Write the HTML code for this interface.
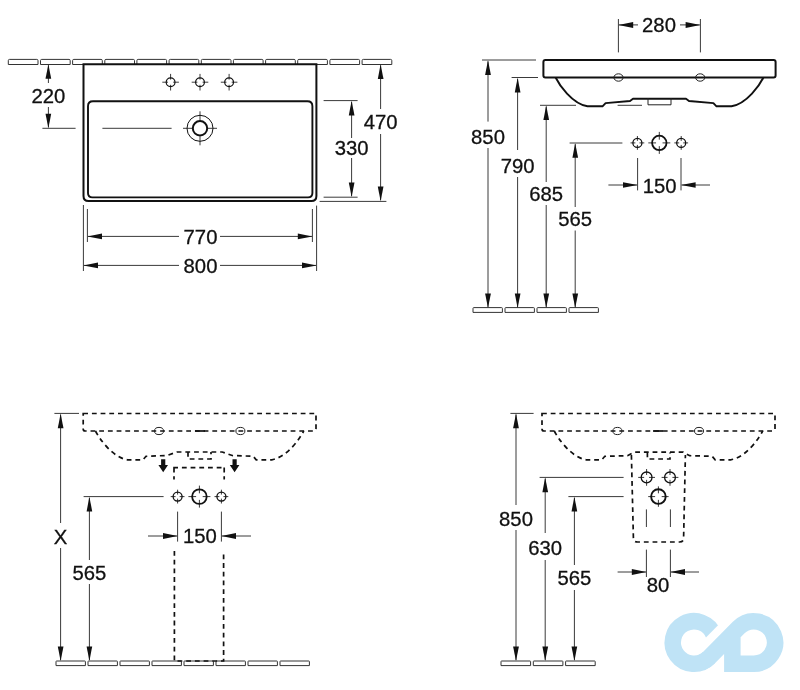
<!DOCTYPE html>
<html><head><meta charset="utf-8"><title>Washbasin dimensions</title>
<style>
html,body{margin:0;padding:0;background:#fff;}
body{width:800px;height:690px;overflow:hidden;}
svg{display:block;}
svg text{font-family:"Liberation Sans",Arial,sans-serif;fill:#111;stroke:#111;stroke-width:0.3px;}
</style></head><body>
<svg width="800" height="690" viewBox="0 0 800 690">
<rect width="800" height="690" fill="#fff"/>
<path d="M8.3,64.5 V60.6 Q8.3,59.4 9.5,59.4 H36.8 Q38.0,59.4 38.0,60.6 V64.5 Z" stroke="#333" stroke-width="1" fill="#fff"/>
<path d="M40.5,64.5 V60.6 Q40.5,59.4 41.7,59.4 H69.0 Q70.2,59.4 70.2,60.6 V64.5 Z" stroke="#333" stroke-width="1" fill="#fff"/>
<path d="M72.6,64.5 V60.6 Q72.6,59.4 73.8,59.4 H101.1 Q102.3,59.4 102.3,60.6 V64.5 Z" stroke="#333" stroke-width="1" fill="#fff"/>
<path d="M104.8,64.5 V60.6 Q104.8,59.4 106.0,59.4 H133.3 Q134.5,59.4 134.5,60.6 V64.5 Z" stroke="#333" stroke-width="1" fill="#fff"/>
<path d="M136.9,64.5 V60.6 Q136.9,59.4 138.1,59.4 H165.4 Q166.6,59.4 166.6,60.6 V64.5 Z" stroke="#333" stroke-width="1" fill="#fff"/>
<path d="M169.1,64.5 V60.6 Q169.1,59.4 170.3,59.4 H197.6 Q198.8,59.4 198.8,60.6 V64.5 Z" stroke="#333" stroke-width="1" fill="#fff"/>
<path d="M201.3,64.5 V60.6 Q201.3,59.4 202.5,59.4 H229.8 Q231.0,59.4 231.0,60.6 V64.5 Z" stroke="#333" stroke-width="1" fill="#fff"/>
<path d="M233.4,64.5 V60.6 Q233.4,59.4 234.6,59.4 H261.9 Q263.1,59.4 263.1,60.6 V64.5 Z" stroke="#333" stroke-width="1" fill="#fff"/>
<path d="M265.6,64.5 V60.6 Q265.6,59.4 266.8,59.4 H294.1 Q295.3,59.4 295.3,60.6 V64.5 Z" stroke="#333" stroke-width="1" fill="#fff"/>
<path d="M297.7,64.5 V60.6 Q297.7,59.4 298.9,59.4 H326.2 Q327.4,59.4 327.4,60.6 V64.5 Z" stroke="#333" stroke-width="1" fill="#fff"/>
<path d="M329.9,64.5 V60.6 Q329.9,59.4 331.1,59.4 H358.4 Q359.6,59.4 359.6,60.6 V64.5 Z" stroke="#333" stroke-width="1" fill="#fff"/>
<path d="M362.1,64.5 V60.6 Q362.1,59.4 363.3,59.4 H390.6 Q391.8,59.4 391.8,60.6 V64.5 Z" stroke="#333" stroke-width="1" fill="#fff"/>
<path d="M83.5,64.2 H316.4 V196 Q316.4,201 311.4,201 H88.5 Q83.5,201 83.5,196 Z" stroke="#111" stroke-width="2" fill="#fff"/>
<path d="M93,101.2 H307.4 Q312.4,101.2 312.4,106.2 V193 Q312.4,197.4 308,197.4 H92.4 Q88,197.4 88,193 V106.2 Q88,101.2 93,101.2 Z" stroke="#111" stroke-width="1.9" fill="none"/>
<line x1="173.2" y1="82.2" x2="178.9" y2="82.2" stroke="#3a3a3a" stroke-width="1" fill="none"/>
<line x1="168.0" y1="82.2" x2="162.29999999999998" y2="82.2" stroke="#3a3a3a" stroke-width="1" fill="none"/>
<line x1="170.6" y1="84.8" x2="170.6" y2="90.5" stroke="#3a3a3a" stroke-width="1" fill="none"/>
<line x1="170.6" y1="79.60000000000001" x2="170.6" y2="73.9" stroke="#3a3a3a" stroke-width="1" fill="none"/>
<circle cx="170.6" cy="82.2" r="4.4" stroke="#111" stroke-width="1.2" fill="none"/>
<line x1="202.6" y1="82.2" x2="208.3" y2="82.2" stroke="#3a3a3a" stroke-width="1" fill="none"/>
<line x1="197.4" y1="82.2" x2="191.7" y2="82.2" stroke="#3a3a3a" stroke-width="1" fill="none"/>
<line x1="200.0" y1="84.8" x2="200.0" y2="90.5" stroke="#3a3a3a" stroke-width="1" fill="none"/>
<line x1="200.0" y1="79.60000000000001" x2="200.0" y2="73.9" stroke="#3a3a3a" stroke-width="1" fill="none"/>
<circle cx="200" cy="82.2" r="4.4" stroke="#111" stroke-width="1.2" fill="none"/>
<line x1="231.7" y1="82.2" x2="237.4" y2="82.2" stroke="#3a3a3a" stroke-width="1" fill="none"/>
<line x1="226.5" y1="82.2" x2="220.79999999999998" y2="82.2" stroke="#3a3a3a" stroke-width="1" fill="none"/>
<line x1="229.1" y1="84.8" x2="229.1" y2="90.5" stroke="#3a3a3a" stroke-width="1" fill="none"/>
<line x1="229.1" y1="79.60000000000001" x2="229.1" y2="73.9" stroke="#3a3a3a" stroke-width="1" fill="none"/>
<circle cx="229.1" cy="82.2" r="4.4" stroke="#111" stroke-width="1.2" fill="none"/>
<line x1="208" y1="128.3" x2="217" y2="128.3" stroke="#3a3a3a" stroke-width="1" fill="none"/>
<line x1="192" y1="128.3" x2="183" y2="128.3" stroke="#3a3a3a" stroke-width="1" fill="none"/>
<line x1="200" y1="136.3" x2="200" y2="145.3" stroke="#3a3a3a" stroke-width="1" fill="none"/>
<line x1="200" y1="120.30000000000001" x2="200" y2="111.30000000000001" stroke="#3a3a3a" stroke-width="1" fill="none"/>
<circle cx="200" cy="128.3" r="13" stroke="#111" stroke-width="1" fill="none"/>
<circle cx="200" cy="128.3" r="7.2" stroke="#111" stroke-width="2" fill="#fff"/>
<line x1="102.4" y1="128.3" x2="171.6" y2="128.3" stroke="#3a3a3a" stroke-width="1" fill="none"/>
<line x1="42.4" y1="128.3" x2="75.6" y2="128.3" stroke="#3a3a3a" stroke-width="1" fill="none"/>
<line x1="48.4" y1="65.2" x2="48.4" y2="83" stroke="#3a3a3a" stroke-width="1" fill="none"/>
<line x1="48.4" y1="107" x2="48.4" y2="127.30000000000001" stroke="#3a3a3a" stroke-width="1" fill="none"/>
<polygon points="48.4,64.2 45.5,78.8 51.2,78.8" fill="#111"/>
<polygon points="48.4,128.3 45.5,113.7 51.2,113.7" fill="#111"/>
<line x1="323.6" y1="100.6" x2="357.6" y2="100.6" stroke="#3a3a3a" stroke-width="1" fill="none"/>
<line x1="323.6" y1="197.2" x2="357.6" y2="197.2" stroke="#3a3a3a" stroke-width="1" fill="none"/>
<line x1="351.6" y1="101.8" x2="351.6" y2="138" stroke="#3a3a3a" stroke-width="1" fill="none"/>
<line x1="351.6" y1="158" x2="351.6" y2="196" stroke="#3a3a3a" stroke-width="1" fill="none"/>
<polygon points="351.6,100.8 348.8,115.4 354.5,115.4" fill="#111"/>
<polygon points="351.6,197.0 348.8,182.4 354.5,182.4" fill="#111"/>
<line x1="319.6" y1="201.4" x2="386.4" y2="201.4" stroke="#3a3a3a" stroke-width="1" fill="none"/>
<line x1="380.6" y1="65.3" x2="380.6" y2="109" stroke="#3a3a3a" stroke-width="1" fill="none"/>
<line x1="380.6" y1="134" x2="380.6" y2="200.2" stroke="#3a3a3a" stroke-width="1" fill="none"/>
<polygon points="380.6,64.3 377.8,78.9 383.5,78.9" fill="#111"/>
<polygon points="380.6,201.2 377.8,186.6 383.5,186.6" fill="#111"/>
<line x1="87.4" y1="209" x2="87.4" y2="242" stroke="#3a3a3a" stroke-width="1" fill="none"/>
<line x1="312.4" y1="209" x2="312.4" y2="242" stroke="#3a3a3a" stroke-width="1" fill="none"/>
<line x1="88" y1="236.4" x2="179" y2="236.4" stroke="#3a3a3a" stroke-width="1" fill="none"/>
<line x1="220" y1="236.4" x2="312" y2="236.4" stroke="#3a3a3a" stroke-width="1" fill="none"/>
<polygon points="87.4,236.4 102.0,233.6 102.0,239.2" fill="#111"/>
<polygon points="312.4,236.4 297.8,233.6 297.8,239.2" fill="#111"/>
<line x1="83.4" y1="205" x2="83.4" y2="271" stroke="#3a3a3a" stroke-width="1" fill="none"/>
<line x1="316.6" y1="205.6" x2="316.6" y2="271" stroke="#3a3a3a" stroke-width="1" fill="none"/>
<line x1="84" y1="265.4" x2="179" y2="265.4" stroke="#3a3a3a" stroke-width="1" fill="none"/>
<line x1="220" y1="265.4" x2="316" y2="265.4" stroke="#3a3a3a" stroke-width="1" fill="none"/>
<polygon points="83.4,265.4 98.0,262.5 98.0,268.2" fill="#111"/>
<polygon points="316.6,265.4 302.0,262.5 302.0,268.2" fill="#111"/>
<path d="M555.6,77.5 C559,84.5 572,103.8 587.5,106.3 H602.5 L605.6,103.1 L630,101 L633,98.75 H686 L689,101 L713.4,103.1 L716.5,106.3 H731.5 C747,103.8 760,84.5 763.4,77.5" stroke="#111" stroke-width="1.9" fill="none" stroke-linejoin="round"/>
<path d="M545.4,60 H773.6 Q775.6,60 775.6,62 V75.5 Q775.6,77.5 773.6,77.5 H545.4 Q543.4,77.5 543.4,75.5 V62 Q543.4,60 545.4,60 Z" stroke="#111" stroke-width="2" fill="#fff"/>
<path d="M648,98 V104.8 H671 V98" stroke="#222" stroke-width="1" fill="none"/>
<ellipse cx="618.5" cy="77.5" rx="4.6" ry="3.7" stroke="#222" stroke-width="1" fill="none"/>
<ellipse cx="700.2" cy="77.5" rx="4.6" ry="3.7" stroke="#222" stroke-width="1" fill="none"/>
<line x1="618.4" y1="19" x2="618.4" y2="52.4" stroke="#3a3a3a" stroke-width="1" fill="none"/>
<line x1="700.4" y1="19" x2="700.4" y2="52.4" stroke="#3a3a3a" stroke-width="1" fill="none"/>
<line x1="619" y1="24.9" x2="638" y2="24.9" stroke="#3a3a3a" stroke-width="1" fill="none"/>
<line x1="680" y1="24.9" x2="699.8" y2="24.9" stroke="#3a3a3a" stroke-width="1" fill="none"/>
<polygon points="618.4,24.9 633.2,21.9 633.2,27.9" fill="#111"/>
<polygon points="700.4,24.9 685.6,21.9 685.6,27.9" fill="#111"/>
<line x1="639.425" y1="142.9" x2="644.3" y2="142.9" stroke="#3a3a3a" stroke-width="1" fill="none"/>
<line x1="635.375" y1="142.9" x2="630.5" y2="142.9" stroke="#3a3a3a" stroke-width="1" fill="none"/>
<line x1="637.4" y1="144.925" x2="637.4" y2="149.8" stroke="#3a3a3a" stroke-width="1" fill="none"/>
<line x1="637.4" y1="140.875" x2="637.4" y2="136.0" stroke="#3a3a3a" stroke-width="1" fill="none"/>
<circle cx="637.4" cy="142.9" r="4.5" stroke="#111" stroke-width="1.3" fill="none"/>
<line x1="683.225" y1="142.9" x2="688.1" y2="142.9" stroke="#3a3a3a" stroke-width="1" fill="none"/>
<line x1="679.1750000000001" y1="142.9" x2="674.3000000000001" y2="142.9" stroke="#3a3a3a" stroke-width="1" fill="none"/>
<line x1="681.2" y1="144.925" x2="681.2" y2="149.8" stroke="#3a3a3a" stroke-width="1" fill="none"/>
<line x1="681.2" y1="140.875" x2="681.2" y2="136.0" stroke="#3a3a3a" stroke-width="1" fill="none"/>
<circle cx="681.2" cy="142.9" r="4.5" stroke="#111" stroke-width="1.3" fill="none"/>
<line x1="662.54" y1="142.9" x2="670.3" y2="142.9" stroke="#3a3a3a" stroke-width="1" fill="none"/>
<line x1="656.06" y1="142.9" x2="648.3" y2="142.9" stroke="#3a3a3a" stroke-width="1" fill="none"/>
<line x1="659.3" y1="146.14000000000001" x2="659.3" y2="153.9" stroke="#3a3a3a" stroke-width="1" fill="none"/>
<line x1="659.3" y1="139.66" x2="659.3" y2="131.9" stroke="#3a3a3a" stroke-width="1" fill="none"/>
<circle cx="659.3" cy="142.9" r="7.2" stroke="#111" stroke-width="1.8" fill="none"/>
<line x1="637.6" y1="158" x2="637.6" y2="190.4" stroke="#3a3a3a" stroke-width="1" fill="none"/>
<line x1="681" y1="158" x2="681" y2="190.4" stroke="#3a3a3a" stroke-width="1" fill="none"/>
<line x1="608.4" y1="185" x2="637" y2="185" stroke="#3a3a3a" stroke-width="1" fill="none"/>
<line x1="681.6" y1="185" x2="710" y2="185" stroke="#3a3a3a" stroke-width="1" fill="none"/>
<polygon points="637.6,185.0 623.0,182.2 623.0,187.8" fill="#111"/>
<polygon points="681.0,185.0 695.6,182.2 695.6,187.8" fill="#111"/>
<path d="M473.0,312.40000000000003 V308.40000000000003 Q473.0,307.6 473.8,307.6 H501.6 Q502.4,307.6 502.4,308.40000000000003 V312.40000000000003 Z" stroke="#333" stroke-width="1" fill="#fff"/>
<path d="M505.0,312.40000000000003 V308.40000000000003 Q505.0,307.6 505.8,307.6 H533.6 Q534.4,307.6 534.4,308.40000000000003 V312.40000000000003 Z" stroke="#333" stroke-width="1" fill="#fff"/>
<path d="M537.0,312.40000000000003 V308.40000000000003 Q537.0,307.6 537.8,307.6 H565.6 Q566.4,307.6 566.4,308.40000000000003 V312.40000000000003 Z" stroke="#333" stroke-width="1" fill="#fff"/>
<path d="M569.0,312.40000000000003 V308.40000000000003 Q569.0,307.6 569.8,307.6 H597.6 Q598.4,307.6 598.4,308.40000000000003 V312.40000000000003 Z" stroke="#333" stroke-width="1" fill="#fff"/>
<line x1="482" y1="60" x2="536" y2="60" stroke="#3a3a3a" stroke-width="1" fill="none"/>
<line x1="488" y1="61.3" x2="488" y2="121.6" stroke="#3a3a3a" stroke-width="1" fill="none"/>
<line x1="488" y1="148" x2="488" y2="307" stroke="#3a3a3a" stroke-width="1" fill="none"/>
<polygon points="488.0,60.3 485.1,74.9 490.9,74.9" fill="#111"/>
<polygon points="488.0,308.0 485.1,293.4 490.9,293.4" fill="#111"/>
<line x1="511.6" y1="77.5" x2="538" y2="77.5" stroke="#3a3a3a" stroke-width="1" fill="none"/>
<line x1="517.6" y1="78.8" x2="517.6" y2="150" stroke="#3a3a3a" stroke-width="1" fill="none"/>
<line x1="517.6" y1="177" x2="517.6" y2="307" stroke="#3a3a3a" stroke-width="1" fill="none"/>
<polygon points="517.6,77.8 514.8,92.4 520.5,92.4" fill="#111"/>
<polygon points="517.6,308.0 514.8,293.4 520.5,293.4" fill="#111"/>
<line x1="540" y1="105.3" x2="576" y2="105.3" stroke="#3a3a3a" stroke-width="1" fill="none"/>
<line x1="617.6" y1="105.3" x2="642" y2="105.3" stroke="#3a3a3a" stroke-width="1" fill="none"/>
<line x1="546.2" y1="106.5" x2="546.2" y2="182" stroke="#3a3a3a" stroke-width="1" fill="none"/>
<line x1="546.2" y1="205" x2="546.2" y2="307" stroke="#3a3a3a" stroke-width="1" fill="none"/>
<polygon points="546.2,105.5 543.4,120.1 549.1,120.1" fill="#111"/>
<polygon points="546.2,308.0 543.4,293.4 549.1,293.4" fill="#111"/>
<line x1="569.6" y1="143" x2="622.4" y2="143" stroke="#3a3a3a" stroke-width="1" fill="none"/>
<line x1="575.2" y1="144.2" x2="575.2" y2="207" stroke="#3a3a3a" stroke-width="1" fill="none"/>
<line x1="575.2" y1="230.5" x2="575.2" y2="307" stroke="#3a3a3a" stroke-width="1" fill="none"/>
<polygon points="575.2,143.2 572.4,157.8 578.1,157.8" fill="#111"/>
<polygon points="575.2,308.0 572.4,293.4 578.1,293.4" fill="#111"/>
<path d="M56.0,665.6 V661.6 Q56.0,661 56.6,661 H84.8 Q85.4,661 85.4,661.6 V665.6 Z" stroke="#333" stroke-width="1" fill="#fff"/>
<path d="M88.0,665.6 V661.6 Q88.0,661 88.6,661 H116.8 Q117.4,661 117.4,661.6 V665.6 Z" stroke="#333" stroke-width="1" fill="#fff"/>
<path d="M120.0,665.6 V661.6 Q120.0,661 120.6,661 H148.8 Q149.4,661 149.4,661.6 V665.6 Z" stroke="#333" stroke-width="1" fill="#fff"/>
<path d="M152.0,665.6 V661.6 Q152.0,661 152.6,661 H180.8 Q181.4,661 181.4,661.6 V665.6 Z" stroke="#333" stroke-width="1" fill="#fff"/>
<path d="M184.0,665.6 V661.6 Q184.0,661 184.6,661 H212.8 Q213.4,661 213.4,661.6 V665.6 Z" stroke="#333" stroke-width="1" fill="#fff"/>
<path d="M216.0,665.6 V661.6 Q216.0,661 216.6,661 H244.8 Q245.4,661 245.4,661.6 V665.6 Z" stroke="#333" stroke-width="1" fill="#fff"/>
<path d="M248.0,665.6 V661.6 Q248.0,661 248.6,661 H276.8 Q277.4,661 277.4,661.6 V665.6 Z" stroke="#333" stroke-width="1" fill="#fff"/>
<path d="M280.0,665.6 V661.6 Q280.0,661 280.6,661 H308.8 Q309.4,661 309.4,661.6 V665.6 Z" stroke="#333" stroke-width="1" fill="#fff"/>
<path d="M83.2,413.5 H316 V429 Q316,431 314,431 H85.2 Q83.2,431 83.2,429 Z" stroke="#111" stroke-width="1.7" fill="none" stroke-dasharray="4.8 3.9"/>
<path d="M95.5,431 C99,438 112,457.3 127.5,459.8 H143 L146,456.3 L167,455.5 L177,452 H222.2 L232.2,455.5 L253.2,456.3 L256.2,459.8 H271.7 C287.2,457.3 300.2,438 303.7,431" stroke="#111" stroke-width="1.7" fill="none" stroke-dasharray="4.8 3.9"/>
<path d="M188,452 V459 H211 V452" stroke="#111" stroke-width="1.7" fill="none" stroke-dasharray="4.8 3.9"/>
<path d="M174,467.6 V479.5 M173.2,467.6 H224.4 M224.2,467.6 V479.5" stroke="#111" stroke-width="1.7" fill="none" stroke-dasharray="4.8 3.9"/>
<path d="M174.4,551 V661 H223.6 V551" stroke="#111" stroke-width="1.7" fill="none" stroke-dasharray="4.8 3.9"/>
<ellipse cx="159" cy="431" rx="4.5" ry="3.6" stroke="#222" stroke-width="1" fill="none"/>
<ellipse cx="240.4" cy="431" rx="4.5" ry="3.6" stroke="#222" stroke-width="1" fill="none"/>
<line x1="195" y1="431" x2="205" y2="431" stroke="#111" stroke-width="1.7"/>
<path d="M161.1,459.2 H165.29999999999998 V465 H168.0 L163.2,472.2 L158.39999999999998,465 H161.1 Z" fill="#111"/>
<path d="M232.5,459.2 H236.7 V465 H239.4 L234.6,472.2 L229.79999999999998,465 H232.5 Z" fill="#111"/>
<line x1="179.625" y1="496.6" x2="184.5" y2="496.6" stroke="#3a3a3a" stroke-width="1" fill="none"/>
<line x1="175.575" y1="496.6" x2="170.7" y2="496.6" stroke="#3a3a3a" stroke-width="1" fill="none"/>
<line x1="177.6" y1="498.625" x2="177.6" y2="503.5" stroke="#3a3a3a" stroke-width="1" fill="none"/>
<line x1="177.6" y1="494.57500000000005" x2="177.6" y2="489.70000000000005" stroke="#3a3a3a" stroke-width="1" fill="none"/>
<circle cx="177.6" cy="496.6" r="4.5" stroke="#111" stroke-width="1.3" fill="none"/>
<line x1="223.425" y1="496.6" x2="228.3" y2="496.6" stroke="#3a3a3a" stroke-width="1" fill="none"/>
<line x1="219.375" y1="496.6" x2="214.5" y2="496.6" stroke="#3a3a3a" stroke-width="1" fill="none"/>
<line x1="221.4" y1="498.625" x2="221.4" y2="503.5" stroke="#3a3a3a" stroke-width="1" fill="none"/>
<line x1="221.4" y1="494.57500000000005" x2="221.4" y2="489.70000000000005" stroke="#3a3a3a" stroke-width="1" fill="none"/>
<circle cx="221.4" cy="496.6" r="4.5" stroke="#111" stroke-width="1.3" fill="none"/>
<line x1="202.685" y1="496.6" x2="210.4" y2="496.6" stroke="#3a3a3a" stroke-width="1" fill="none"/>
<line x1="196.115" y1="496.6" x2="188.4" y2="496.6" stroke="#3a3a3a" stroke-width="1" fill="none"/>
<line x1="199.4" y1="499.88500000000005" x2="199.4" y2="507.6" stroke="#3a3a3a" stroke-width="1" fill="none"/>
<line x1="199.4" y1="493.315" x2="199.4" y2="485.6" stroke="#3a3a3a" stroke-width="1" fill="none"/>
<circle cx="199.4" cy="496.6" r="7.3" stroke="#111" stroke-width="1.8" fill="none"/>
<line x1="177.6" y1="511.6" x2="177.6" y2="541.6" stroke="#3a3a3a" stroke-width="1" fill="none"/>
<line x1="221.4" y1="511.6" x2="221.4" y2="541.6" stroke="#3a3a3a" stroke-width="1" fill="none"/>
<line x1="148" y1="536" x2="177" y2="536" stroke="#3a3a3a" stroke-width="1" fill="none"/>
<line x1="222" y1="536" x2="251" y2="536" stroke="#3a3a3a" stroke-width="1" fill="none"/>
<polygon points="177.6,536.0 163.0,533.1 163.0,538.9" fill="#111"/>
<polygon points="221.4,536.0 236.0,533.1 236.0,538.9" fill="#111"/>
<line x1="54.4" y1="413.4" x2="79" y2="413.4" stroke="#3a3a3a" stroke-width="1" fill="none"/>
<line x1="60.6" y1="414.6" x2="60.6" y2="523" stroke="#3a3a3a" stroke-width="1" fill="none"/>
<line x1="60.6" y1="548" x2="60.6" y2="660" stroke="#3a3a3a" stroke-width="1" fill="none"/>
<polygon points="60.6,413.6 57.8,428.2 63.5,428.2" fill="#111"/>
<polygon points="60.6,661.0 57.8,646.4 63.5,646.4" fill="#111"/>
<line x1="83.6" y1="496.6" x2="163.6" y2="496.6" stroke="#3a3a3a" stroke-width="1" fill="none"/>
<line x1="89.4" y1="497.8" x2="89.4" y2="560" stroke="#3a3a3a" stroke-width="1" fill="none"/>
<line x1="89.4" y1="584" x2="89.4" y2="660" stroke="#3a3a3a" stroke-width="1" fill="none"/>
<polygon points="89.4,496.8 86.6,511.4 92.2,511.4" fill="#111"/>
<polygon points="89.4,661.0 86.6,646.4 92.2,646.4" fill="#111"/>
<path d="M501.0,665.6 V661.6 Q501.0,661 501.6,661 H530.0 Q530.6,661 530.6,661.6 V665.6 Z" stroke="#333" stroke-width="1" fill="#fff"/>
<path d="M533.3,665.6 V661.6 Q533.3,661 533.9,661 H562.3 Q562.9,661 562.9,661.6 V665.6 Z" stroke="#333" stroke-width="1" fill="#fff"/>
<path d="M565.6,665.6 V661.6 Q565.6,661 566.2,661 H594.6 Q595.2,661 595.2,661.6 V665.6 Z" stroke="#333" stroke-width="1" fill="#fff"/>
<path d="M542,413.5 H775 V429 Q775,431 773,431 H544 Q542,431 542,429 Z" stroke="#111" stroke-width="1.7" fill="none" stroke-dasharray="4.8 3.9"/>
<path d="M554.3,431 C557.8,438 570.8,457.3 586.3,459.8 H601.8 L604.8,456.3 L627.5,455.7 L634,452.2 H683.2 L689.7,455.7 L712.2,456.3 L715.2,459.8 H730.7 C746.2,457.3 759.2,438 762.7,431" stroke="#111" stroke-width="1.7" fill="none" stroke-dasharray="4.8 3.9"/>
<path d="M647.4,452.4 V459 H670 V452.4" stroke="#111" stroke-width="1.7" fill="none" stroke-dasharray="4.8 3.9"/>
<path d="M631.4,455 L633.4,538 Q633.6,542 637.6,542 H679.6 Q683.6,542 683.6,538 L685.4,455" stroke="#111" stroke-width="1.7" fill="none" stroke-dasharray="4.8 3.9"/>
<ellipse cx="617.4" cy="431" rx="4.5" ry="3.6" stroke="#222" stroke-width="1" fill="none"/>
<ellipse cx="699" cy="431" rx="4.5" ry="3.6" stroke="#222" stroke-width="1" fill="none"/>
<line x1="653" y1="431" x2="663" y2="431" stroke="#111" stroke-width="1.7"/>
<line x1="649.03" y1="477.4" x2="655.0" y2="477.4" stroke="#3a3a3a" stroke-width="1" fill="none"/>
<line x1="644.1700000000001" y1="477.4" x2="638.2" y2="477.4" stroke="#3a3a3a" stroke-width="1" fill="none"/>
<line x1="646.6" y1="479.83" x2="646.6" y2="485.79999999999995" stroke="#3a3a3a" stroke-width="1" fill="none"/>
<line x1="646.6" y1="474.96999999999997" x2="646.6" y2="469.0" stroke="#3a3a3a" stroke-width="1" fill="none"/>
<circle cx="646.6" cy="477.4" r="5.4" stroke="#111" stroke-width="1.3" fill="none"/>
<line x1="672.43" y1="477.4" x2="678.4" y2="477.4" stroke="#3a3a3a" stroke-width="1" fill="none"/>
<line x1="667.57" y1="477.4" x2="661.6" y2="477.4" stroke="#3a3a3a" stroke-width="1" fill="none"/>
<line x1="670.0" y1="479.83" x2="670.0" y2="485.79999999999995" stroke="#3a3a3a" stroke-width="1" fill="none"/>
<line x1="670.0" y1="474.96999999999997" x2="670.0" y2="469.0" stroke="#3a3a3a" stroke-width="1" fill="none"/>
<circle cx="670" cy="477.4" r="5.4" stroke="#111" stroke-width="1.3" fill="none"/>
<line x1="661.685" y1="496.6" x2="668.6" y2="496.6" stroke="#3a3a3a" stroke-width="1" fill="none"/>
<line x1="655.115" y1="496.6" x2="648.1999999999999" y2="496.6" stroke="#3a3a3a" stroke-width="1" fill="none"/>
<line x1="658.4" y1="499.88500000000005" x2="658.4" y2="506.8" stroke="#3a3a3a" stroke-width="1" fill="none"/>
<line x1="658.4" y1="493.315" x2="658.4" y2="486.40000000000003" stroke="#3a3a3a" stroke-width="1" fill="none"/>
<circle cx="658.4" cy="496.6" r="7.3" stroke="#111" stroke-width="1.9" fill="none"/>
<line x1="646.4" y1="509.4" x2="646.4" y2="527" stroke="#3a3a3a" stroke-width="1" fill="none"/>
<line x1="670.4" y1="509.4" x2="670.4" y2="527" stroke="#3a3a3a" stroke-width="1" fill="none"/>
<line x1="646.4" y1="549.6" x2="646.4" y2="577" stroke="#3a3a3a" stroke-width="1" fill="none"/>
<line x1="670.4" y1="549.6" x2="670.4" y2="577" stroke="#3a3a3a" stroke-width="1" fill="none"/>
<line x1="617.6" y1="572" x2="646" y2="572" stroke="#3a3a3a" stroke-width="1" fill="none"/>
<line x1="671" y1="572" x2="699" y2="572" stroke="#3a3a3a" stroke-width="1" fill="none"/>
<polygon points="646.4,572.0 631.8,569.1 631.8,574.9" fill="#111"/>
<polygon points="670.4,572.0 685.0,569.1 685.0,574.9" fill="#111"/>
<line x1="510.4" y1="413.4" x2="533.6" y2="413.4" stroke="#3a3a3a" stroke-width="1" fill="none"/>
<line x1="516" y1="414.6" x2="516" y2="505" stroke="#3a3a3a" stroke-width="1" fill="none"/>
<line x1="516" y1="530" x2="516" y2="660" stroke="#3a3a3a" stroke-width="1" fill="none"/>
<polygon points="516.0,413.6 513.1,428.2 518.9,428.2" fill="#111"/>
<polygon points="516.0,661.0 513.1,646.4 518.9,646.4" fill="#111"/>
<line x1="539.6" y1="477.4" x2="623.6" y2="477.4" stroke="#3a3a3a" stroke-width="1" fill="none"/>
<line x1="545.2" y1="478.6" x2="545.2" y2="533" stroke="#3a3a3a" stroke-width="1" fill="none"/>
<line x1="545.2" y1="560" x2="545.2" y2="660" stroke="#3a3a3a" stroke-width="1" fill="none"/>
<polygon points="545.2,477.6 542.4,492.2 548.1,492.2" fill="#111"/>
<polygon points="545.2,661.0 542.4,646.4 548.1,646.4" fill="#111"/>
<line x1="568.4" y1="496.6" x2="623.6" y2="496.6" stroke="#3a3a3a" stroke-width="1" fill="none"/>
<line x1="574.4" y1="497.8" x2="574.4" y2="565" stroke="#3a3a3a" stroke-width="1" fill="none"/>
<line x1="574.4" y1="590" x2="574.4" y2="660" stroke="#3a3a3a" stroke-width="1" fill="none"/>
<polygon points="574.4,496.8 571.5,511.4 577.2,511.4" fill="#111"/>
<polygon points="574.4,661.0 571.5,646.4 577.2,646.4" fill="#111"/>
<path d="M713.97,635.23 A21.25,21.25 0 1 0 709.10,657.45" stroke="#bfe3f6" stroke-width="16.5" fill="none"/>
<line x1="700.40" y1="648.83" x2="728.54" y2="620.40" stroke="#fff" stroke-width="8"/>
<path d="M701.37,662.43 A21.25,21.25 0 0 0 709.10,657.45 L738.70,627.55 A21.25,21.25 0 1 1 753.8,663.75 H732.35 V636" stroke="#bfe3f6" stroke-width="16.5" fill="none" stroke-linejoin="miter"/>
<g style="will-change:transform">
<text x="48.4" y="102.5" text-anchor="middle" font-size="20.3">220</text>
<text x="351.6" y="155.1" text-anchor="middle" font-size="20.3">330</text>
<text x="380.6" y="129.1" text-anchor="middle" font-size="20.3">470</text>
<text x="200.5" y="243.5" text-anchor="middle" font-size="20.3">770</text>
<text x="200.5" y="272.5" text-anchor="middle" font-size="20.3">800</text>
<text x="659" y="32.3" text-anchor="middle" font-size="20.3">280</text>
<text x="659.6" y="192.5" text-anchor="middle" font-size="20.3">150</text>
<text x="488" y="143.6" text-anchor="middle" font-size="20.3">850</text>
<text x="517.6" y="172.5" text-anchor="middle" font-size="20.3">790</text>
<text x="546.2" y="200.7" text-anchor="middle" font-size="20.3">685</text>
<text x="575.2" y="226.3" text-anchor="middle" font-size="20.3">565</text>
<text x="199.8" y="543.1" text-anchor="middle" font-size="20.3">150</text>
<text x="60.6" y="543.9" text-anchor="middle" font-size="20.3">X</text>
<text x="89.4" y="579.7" text-anchor="middle" font-size="20.3">565</text>
<text x="658" y="592.1" text-anchor="middle" font-size="20.3">80</text>
<text x="516" y="525.7" text-anchor="middle" font-size="20.3">850</text>
<text x="545.2" y="555.1" text-anchor="middle" font-size="20.3">630</text>
<text x="574.4" y="585.1" text-anchor="middle" font-size="20.3">565</text>
</g>
</svg>
</body></html>
